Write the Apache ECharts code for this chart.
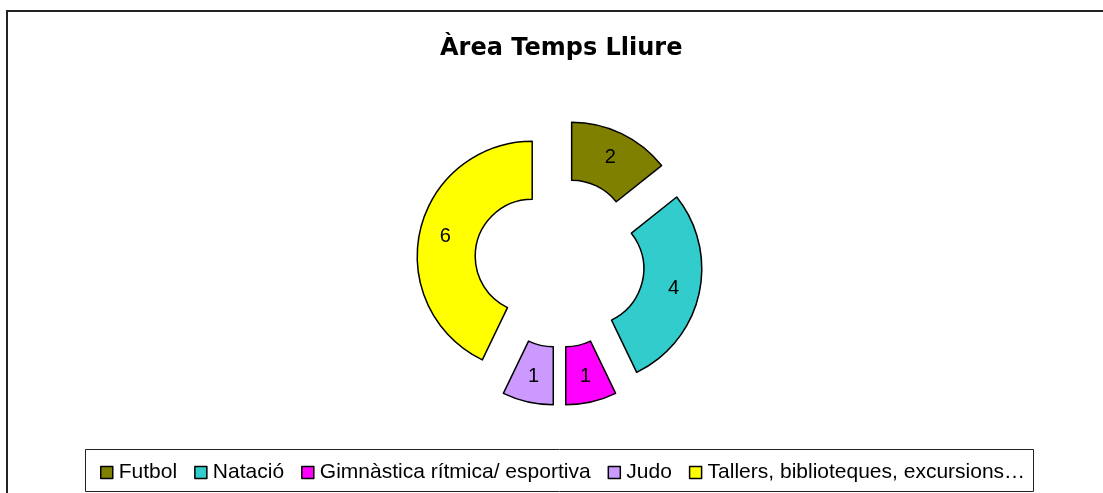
<!DOCTYPE html>
<html>
<head>
<meta charset="utf-8">
<script src="https://cdn.jsdelivr.net/npm/echarts@6/dist/echarts.min.js"></script>
<style>
html,body{margin:0;padding:0;background:#fff;}
#c{width:1103px;height:493px;}
</style>
</head>
<body>
<div id="c"></div>
<script>
var title = 'Àrea Temps Lliure';
var categories = ['Futbol', 'Natació', 'Gimnàstica rítmica/ esportiva', 'Judo', 'Tallers, biblioteques, excursions…'];
var values = [2, 4, 1, 1, 6];
var colors = ['#808000', '#33CCCC', '#FF00FF', '#CC99FF', '#FFFF00'];

var chart = echarts.init(document.getElementById('c'), null, {renderer: 'canvas'});
var data = categories.map(function (n, i) {
  return {name: n, value: values[i], selected: true, itemStyle: {color: colors[i]}};
});
chart.setOption({
  animation: false,
  backgroundColor: '#ffffff',
  title: {
    text: title,
    left: 435,
    top: 32,
    textStyle: {fontFamily: 'DejaVu Sans', fontSize: 24, fontWeight: 'bold', color: '#000'}
  },
  legend: {
    left: 95,
    top: 457,
    icon: 'rect',
    itemWidth: 12,
    itemHeight: 12,
    itemGap: 17,
    selectedMode: false,
    textStyle: {fontFamily: 'Liberation Sans, Arial', fontSize: 21, color: '#000', padding: [0, 0, 0, 1]},
    itemStyle: {borderColor: '#000', borderWidth: 1.5},
    data: categories
  },
  graphic: [
    {type: 'rect', shape: {x: 7, y: 11, width: 1200, height: 600}, style: {fill: 'none', stroke: '#222', lineWidth: 2}, z: 10},
    {type: 'rect', shape: {x: 85.5, y: 449.5, width: 948, height: 42}, style: {fill: 'none', stroke: '#222', lineWidth: 1}, z: 10}
  ],
  series: [{
    type: 'pie',
    center: [559.5, 262.5],
    radius: [57, 115],
    startAngle: 90,
    clockwise: true,
    selectedMode: 'multiple',
    selectedOffset: 28,
    avoidLabelOverlap: false,
    itemStyle: {borderColor: '#000', borderWidth: 1.5},
    label: {
      show: true,
      position: 'inside',
      formatter: '{c}',
      fontFamily: 'Liberation Sans, Arial',
      fontSize: 20,
      color: '#000'
    },
    labelLine: {show: false},
    emphasis: {disabled: true},
    select: {itemStyle: {borderColor: '#000', borderWidth: 1.5}},
    data: data
  }]
});
</script>
</body>
</html>
